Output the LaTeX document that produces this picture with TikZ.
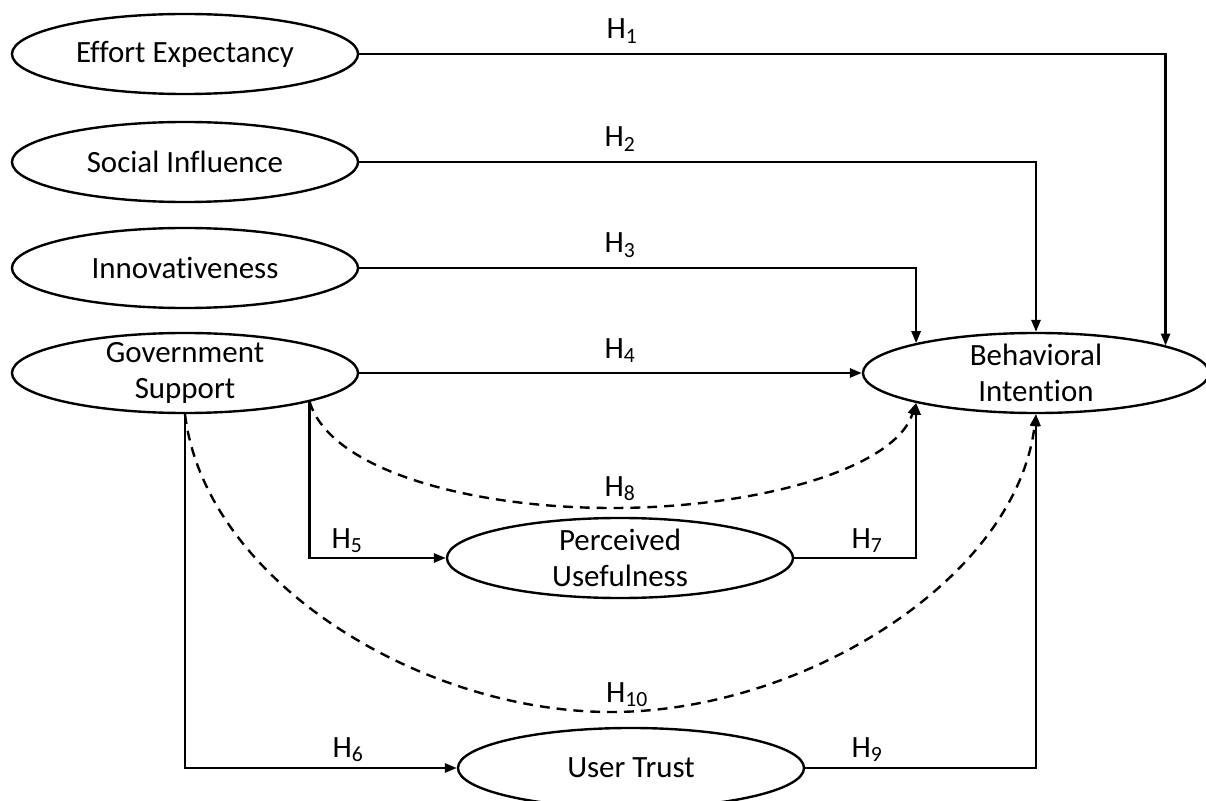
\documentclass[tikz,border=0pt]{standalone}
\usepackage{fontspec}
\setmainfont{Carlito}[Ligatures=NoCommon]
\usetikzlibrary{arrows.meta,shapes.geometric}

\begin{document}
\begin{tikzpicture}[
  x=0.025cm, y=-0.025cm,
  construct/.style={ellipse, draw, line width=1.7pt, minimum width=8.65cm, minimum height=2cm, inner sep=-10pt, align=center},
  link/.style={-{Triangle[length=8.5pt,width=6.5pt]}, line width=1.7pt},
  mediated/.style={link, dash pattern=on 7pt off 5pt},
  hyp/.style={anchor=base, inner sep=0pt},
  font=\fontsize{22}{25.6}\selectfont
]
\useasboundingbox (0,0) rectangle (1206,801);

\node[construct] (ee) at (185,54) {Effort Expectancy};
\node[construct] (si) at (185,162) {Social Influence};
\node[construct] (inn) at (185,268) {Innovativeness};
\node[construct] (gs) at (185,373) {Government\\Support};
\node[construct] (bi) at (1036,373) {Behavioral\\Intention};
\node[construct] (pu) at (620,558) {Perceived\\Usefulness};
\node[construct] (ut) at (631,768) {User Trust};

\draw[link] (ee.east) -| (bi.12.6);
\draw[link] (si.east) -| (bi.north);
\draw[link] (inn.east) -| (bi.166.3);
\draw[link] (gs.east) -- (bi.west);
\draw[link] (gs.-13.1) |- (pu.west);
\draw[link] (gs.south) |- (ut.west);
\draw[link] (pu.east) -| (bi.-166.3);
\draw[link] (ut.east) -| (bi.south);

% Mediation paths
\draw[mediated] (gs.-13.1) .. controls (330,470) and (470,508) .. (612,508)
  .. controls (754,508) and (894,470) .. (bi.-166.3);
\draw[mediated] (gs.south) .. controls (205,580) and (420,712) .. (611,712)
  .. controls (802,712) and (1016,580) .. (bi.south);

% Hypotheses
\node[hyp] (h1) at (622,39) {H\textsubscript{1}};
\node[hyp] (h2) at (620,147) {H\textsubscript{2}};
\node[hyp] (h3) at (620,253) {H\textsubscript{3}};
\node[hyp] (h4) at (620,358) {H\textsubscript{4}};
\node[hyp] (h5) at (347,548) {H\textsubscript{5}};
\node[hyp] (h6) at (348,757) {H\textsubscript{6}};
\node[hyp] (h7) at (867,548) {H\textsubscript{7}};
\node[hyp] (h8) at (620,496) {H\textsubscript{8}};
\node[hyp] (h9) at (867,757) {H\textsubscript{9}};
\node[hyp] (h10) at (627,702) {H\textsubscript{10}};
\end{tikzpicture}
\end{document}
